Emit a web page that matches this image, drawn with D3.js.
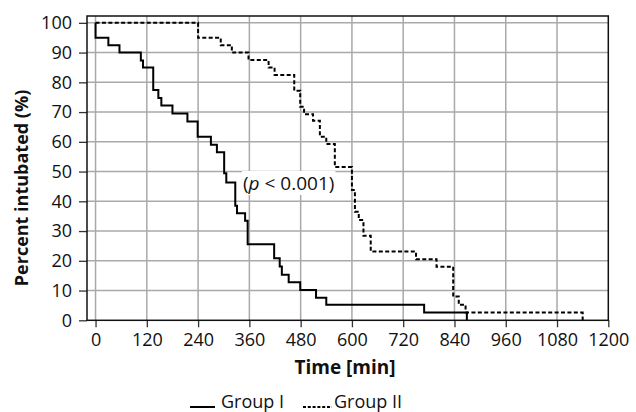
<!DOCTYPE html>
<html>
<head>
<meta charset="utf-8">
<script src="https://cdn.jsdelivr.net/npm/d3@7"></script>
<style>
  html, body { margin: 0; padding: 0; background: #fff; }
  svg { display: block; }
</style>
</head>
<body>
<svg id="chart" width="636" height="412"></svg>
<script>
// ---- data ----
const timeTicks = [0, 120, 240, 360, 480, 600, 720, 840, 960, 1080, 1200];
const pctTicks = [0, 10, 20, 30, 40, 50, 60, 70, 80, 90, 100];

const group1Times  = [0, 30, 56, 106, 111, 135, 147, 154, 180, 215, 239, 270, 284, 301, 306, 327, 331, 350, 356, 418, 431, 436, 452, 479, 516, 540, 769, 869];
const group1Values = [95, 92.5, 90, 87.3, 85, 77.4, 74.7, 72.2, 69.5, 66.8, 61.7, 59, 56.5, 49.4, 46.3, 38.5, 36, 33.5, 25.6, 20.9, 18.1, 15.3, 12.8, 10.2, 7.6, 5.2, 2.6, 0];

const group2Times  = [240, 293, 319, 358, 405, 419, 465, 479, 488, 509, 525, 540, 560, 600, 607, 616, 627, 644, 750, 798, 837, 850, 866, 1140];
const group2Values = [95, 92.5, 90, 87.5, 85, 82.5, 77.2, 71.8, 69.3, 67.1, 61.7, 59.3, 51.5, 43.8, 36.5, 33.7, 28.4, 23.1, 20.5, 18, 8, 5.2, 2.6, 0];

const seriesNames = ["Group I", "Group II"];
const annotation = "< 0.001)";

// ---- layout ----
const FONT = "Open Sans";
const svg = d3.select("#chart");
const mLeft = 87, mRight = 608.3, mTop = 16, mBottom = 320.3;

const x = d3.scaleLinear().domain([-20, 1200]).range([mLeft, mRight]);
const y = d3.scaleLinear().domain([0, 102.3]).range([mBottom, mTop]);

// grid
const grid = svg.append("g");
grid.selectAll("line.v").data(timeTicks.filter(t => t < 1200)).join("line")
  .attr("x1", d => x(d)).attr("x2", d => x(d))
  .attr("y1", mTop).attr("y2", mBottom)
  .attr("stroke", "#a9a9a9").attr("stroke-width", 1.5);
grid.selectAll("line.h").data(pctTicks.filter(t => t > 0)).join("line")
  .attr("x1", mLeft).attr("x2", mRight)
  .attr("y1", d => y(d)).attr("y2", d => y(d))
  .attr("stroke", "#a9a9a9").attr("stroke-width", 1.5);

// axes
const xAxis = d3.axisBottom(x).tickValues(timeTicks).tickFormat(d3.format("d"))
  .tickSize(7).tickPadding(4).tickSizeOuter(0);
const gx = svg.append("g").attr("transform", `translate(0,${mBottom})`).call(xAxis);
gx.select(".domain").remove();
gx.selectAll(".tick line").attr("stroke", "#333").attr("stroke-width", 1.3);
gx.selectAll(".tick text").attr("fill", "#111").attr("dy", "0.71em").attr("y", 13)
  .attr("font-family", FONT).attr("font-size", 18);

const yAxis = d3.axisLeft(y).tickValues(pctTicks).tickFormat(d3.format("d"))
  .tickSize(8).tickPadding(7).tickSizeOuter(0);
const gy = svg.append("g").attr("transform", `translate(${mLeft},0)`).call(yAxis);
gy.select(".domain").remove();
gy.selectAll(".tick line").attr("stroke", "#333").attr("stroke-width", 1.3);
gy.selectAll(".tick text").attr("fill", "#111").attr("x", -15)
  .attr("font-family", FONT).attr("font-size", 18);

// annotation with white background
const ann = svg.append("g").attr("transform", "translate(243,190)");
const annText = ann.append("text").attr("font-family", FONT).attr("font-size", 19).attr("fill", "#111");
annText.append("tspan").text("(");
annText.append("tspan").attr("font-style", "italic").text("p");
annText.append("tspan").text(" " + annotation);
const bb = annText.node().getBBox();
ann.insert("rect", "text").attr("x", bb.x - 1).attr("y", bb.y + 1)
  .attr("width", bb.width + 2).attr("height", bb.height - 2).attr("fill", "#fff");

// step curves
const line = d3.line().x(d => x(d[0])).y(d => y(d[1])).curve(d3.curveStepAfter);
const g1 = [[0, 100]].concat(group1Times.map((t, i) => [t, group1Values[i]]));
const g2 = [[0, 100]].concat(group2Times.map((t, i) => [t, group2Values[i]]));

svg.append("path").datum(g2).attr("d", line)
  .attr("fill", "none").attr("stroke", "#000").attr("stroke-width", 2)
  .attr("stroke-dasharray", "4,2.4");
svg.append("path").datum(g1).attr("d", line)
  .attr("fill", "none").attr("stroke", "#000").attr("stroke-width", 2);

// frame
svg.append("rect").attr("x", mLeft).attr("y", mTop)
  .attr("width", mRight - mLeft).attr("height", mBottom - mTop)
  .attr("fill", "none").attr("stroke", "#111").attr("stroke-width", 1.5);

// axis titles
svg.append("text").attr("x", 345).attr("y", 374).attr("text-anchor", "middle")
  .attr("font-family", FONT).attr("font-size", 19).attr("font-weight", "bold")
  .attr("fill", "#111").text("Time [min]");
svg.append("text").attr("transform", "translate(28,188) rotate(-90)")
  .attr("text-anchor", "middle").attr("font-family", FONT).attr("font-size", 18)
  .attr("font-weight", "bold").attr("fill", "#111")
  .text("Percent intubated (%)");

// legend
const lg = svg.append("g");
lg.append("line").attr("x1", 190).attr("x2", 215).attr("y1", 407).attr("y2", 407)
  .attr("stroke", "#000").attr("stroke-width", 2);
lg.append("text").attr("x", 221).attr("y", 408).attr("font-family", FONT)
  .attr("font-size", 18).attr("fill", "#111").text(seriesNames[0]);
lg.append("line").attr("x1", 303).attr("x2", 332).attr("y1", 407).attr("y2", 407)
  .attr("stroke", "#000").attr("stroke-width", 2).attr("stroke-dasharray", "3,1.8");
lg.append("text").attr("x", 334).attr("y", 408).attr("font-family", FONT)
  .attr("font-size", 18).attr("fill", "#111").text(seriesNames[1]);
</script>
</body>
</html>
